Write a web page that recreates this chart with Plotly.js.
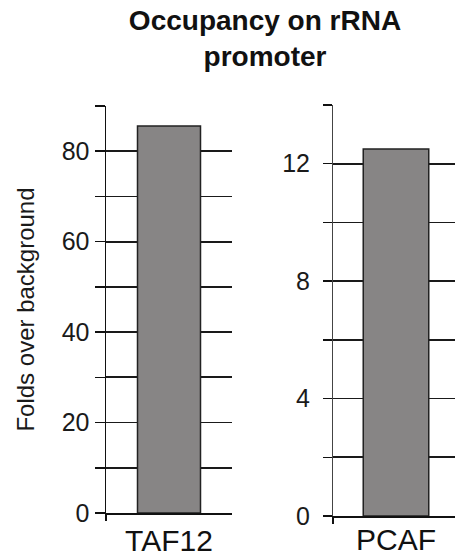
<!DOCTYPE html>
<html>
<head>
<meta charset="utf-8">
<script src="https://cdn.plot.ly/plotly-3.0.1.min.js"></script>
<style>html,body{margin:0;padding:0;overflow:hidden;background:#fff;}#chart{width:460px;height:558px;}</style>
</head>
<body>
<div id="chart"></div>
<script>
// Data
const categoriesLeft = ["TAF12"];
const valuesLeft = [85.6];
const categoriesRight = ["PCAF"];
const valuesRight = [12.5];
const tickValsLeft = [0, 10, 20, 30, 40, 50, 60, 70, 80, 90];
const tickTextLeft = ["0", "", "20", "", "40", "", "60", "", "80", ""];
const tickValsRight = [0, 2, 4, 6, 8, 10, 12, 14];
const tickTextRight = ["0", "", "4", "", "8", "", "12", ""];

const W = 460, H = 558;
const font = "Liberation Sans, Arial, sans-serif";
const barStyle = {color: "#878585", line: {color: "#222", width: 1.5}};

const traces = [
  {type: "bar", x: categoriesLeft, y: valuesLeft, width: 0.5, marker: barStyle, xaxis: "x", yaxis: "y", hoverinfo: "skip"},
  {type: "bar", x: categoriesRight, y: valuesRight, width: 0.52, marker: barStyle, xaxis: "x2", yaxis: "y2", hoverinfo: "skip"}
];

function xax(l, r) {
  return {
    domain: [l / W, r / W], range: [-0.5, 0.5], type: "category",
    showline: true, linecolor: "#111", linewidth: 1.5,
    ticks: "outside", tickson: "boundaries", ticklen: 6, tickcolor: "#111", tickwidth: 1.5,
    tickfont: {family: font, size: 30, color: "#111"}, showgrid: false, fixedrange: true
  };
}
function yax(top, bottom, maxv, tv, tt) {
  return {
    domain: [(H - bottom) / H, (H - top) / H], range: [0, maxv], autorange: false,
    tickmode: "array", tickvals: tv, ticktext: tt,
    showline: true, linecolor: "#111", linewidth: 1.5,
    ticks: "outside", ticklen: 10, tickcolor: "#111", tickwidth: 1.5,
    showgrid: true, gridcolor: "#1a1a1a", gridwidth: 1.8, zeroline: false,
    tickfont: {family: font, size: 25, color: "#1a1a1a"}, fixedrange: true
  };
}

const layout = {
  width: W, height: H,
  margin: {l: 0, r: 0, t: 0, b: 0},
  paper_bgcolor: "#fff", plot_bgcolor: "#fff",
  showlegend: false, bargap: 0,
  title: {
    text: "<b>Occupancy on rRNA<br>promoter</b>",
    font: {family: font, size: 28, color: "#111"},
    x: 265 / W, xanchor: "center", xref: "paper",
    y: 1 - 30 / H, yanchor: "top", yref: "container"
  },
  xaxis: xax(106, 232),
  xaxis2: Object.assign(xax(333, 459), {anchor: "y2", ticklabelstandoff: -4}),
  yaxis: Object.assign(yax(106, 513, 90, tickValsLeft, tickTextLeft), {
    anchor: "x",
    title: {text: "Folds over background", font: {family: font, size: 24, color: "#1a1a1a"}, standoff: 20}
  }),
  yaxis2: Object.assign(yax(105, 516, 14, tickValsRight, tickTextRight), {anchor: "x2", linewidth: 1, linecolor: "#444", ticklen: 9, ticklabelstandoff: 8})
};
layout.xaxis.anchor = "y";

Plotly.newPlot("chart", traces, layout, {displayModeBar: false, staticPlot: true});
</script>
</body>
</html>
